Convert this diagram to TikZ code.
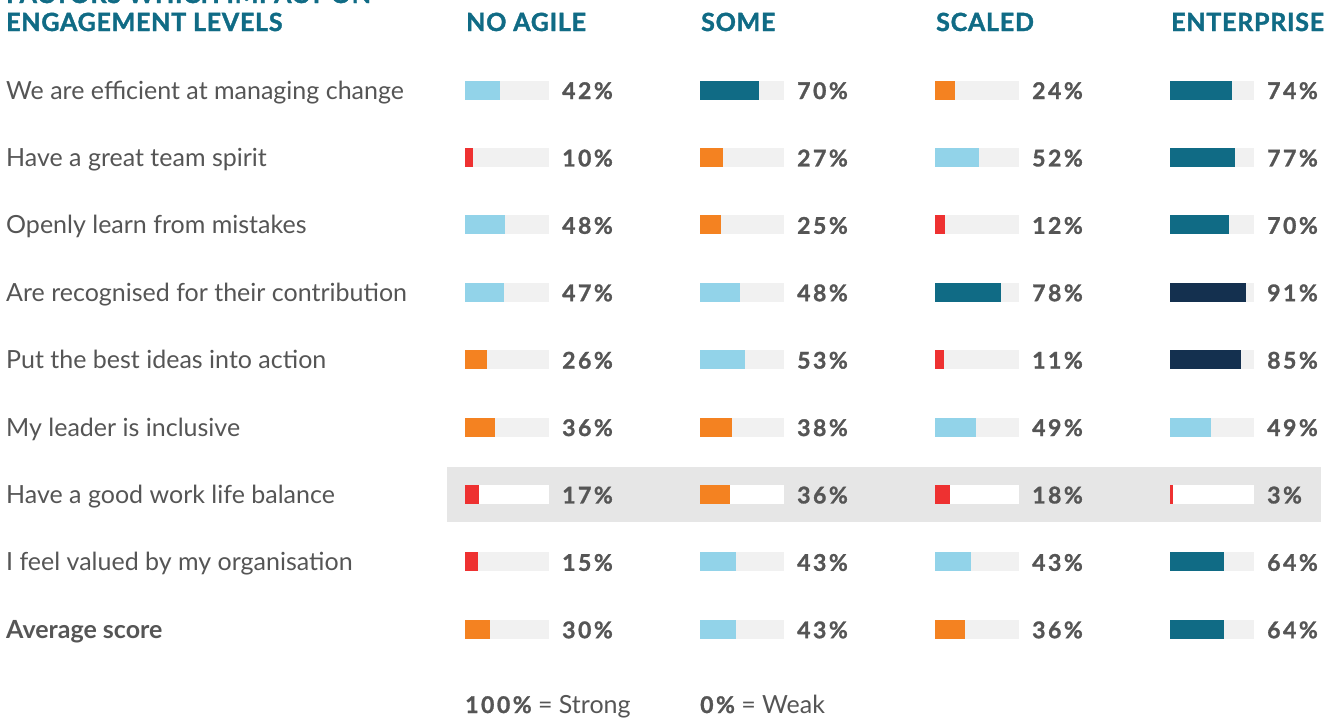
\documentclass[tikz,border=0pt]{standalone}
\usepackage{fontspec}
\setmainfont{Lato}
\newfontfamily\hdfont[LetterSpace=3,BoldFeatures={FakeBold=1.5}]{Lato}
\newfontfamily\pcfont[LetterSpace=11,BoldFeatures={FakeBold=1.2}]{Lato}
\definecolor{tgray}{HTML}{555555}
\definecolor{cteal}{HTML}{106B85}
\definecolor{clight}{HTML}{92D3E9}
\definecolor{corange}{HTML}{F48221}
\definecolor{cred}{HTML}{EE3131}
\definecolor{cnavy}{HTML}{14304F}
\definecolor{barbg}{HTML}{F1F1F1}
\definecolor{hl}{HTML}{E6E6E6}
\tikzset{
  lbl/.style={anchor=base west, inner sep=0pt, text=tgray, font=\fontsize{25}{28}\selectfont},
  pct/.style={anchor=base west, inner sep=0pt, text=tgray, font=\pcfont\bfseries\fontsize{23}{28}\selectfont},
  hd/.style={anchor=base west, inner sep=0pt, text=cteal, font=\hdfont\bfseries\fontsize{25}{28}\selectfont}
}
\begin{document}
\begin{tikzpicture}[x=1pt,y=-1pt]
\useasboundingbox (0,0) rectangle (1335,718);
\fill[hl] (447,467) rectangle (1321,522);
\node[hd] (t1) at (6,3) {FACTORS WHICH IMPACT ON};
\node[hd] (t2) at (6,31) {ENGAGEMENT LEVELS};
\node[hd] (h0) at (466,31) {NO AGILE};
\node[hd] (h1) at (701,31) {SOME};
\node[hd] (h2) at (936,31) {SCALED};
\node[hd] (h3) at (1171,31) {ENTERPRISE};
\foreach \lab/\va/\vb/\vc/\vd [count=\i from 0] in {
 We are efficient at managing change/42/70/24/74,
 Have a great team spirit/10/27/52/77,
 Openly learn from mistakes/48/25/12/70,
 Are recognised for their contribution/47/48/78/91,
 Put the best ideas into action/26/53/11/85,
 My leader is inclusive/36/38/49/49,
 Have a good work life balance/17/36/18/3,
 I feel valued by my organisation/15/43/43/64,
 {\bfseries Average score}/30/43/36/64}
{
 \pgfmathsetmacro\yc{90+67.4*\i}
 \node[lbl] (lab\i) at (6,\yc+9) {\lab};
 \ifnum\i=6 \def\bg{white}\else\def\bg{barbg}\fi
 \foreach \v [count=\j from 0] in {\va,\vb,\vc,\vd} {
   \pgfmathsetmacro\xs{465+235*\j}
   \ifnum\v<20 \def\bc{cred}\else\ifnum\v<40 \def\bc{corange}\else\ifnum\v<60 \def\bc{clight}\else\ifnum\v<80 \def\bc{cteal}\else\def\bc{cnavy}\fi\fi\fi\fi
   \fill[\bg] (\xs,\yc-9.5) rectangle ++(84,19);
   \fill[\bc] (\xs,\yc-9.5) rectangle ++(0.84*\v,19);
   \node[pct] (p\i-\j) at (\xs+97,\yc+9) {\v\%};
 }
}
\node[lbl] (f1) at (465,713) {{\pcfont\bfseries\fontsize{23}{28}\selectfont 100\%} = Strong};
\node[lbl] (f2) at (700,713) {{\pcfont\bfseries\fontsize{23}{28}\selectfont 0\%} = Weak};
\end{tikzpicture}
\end{document}
